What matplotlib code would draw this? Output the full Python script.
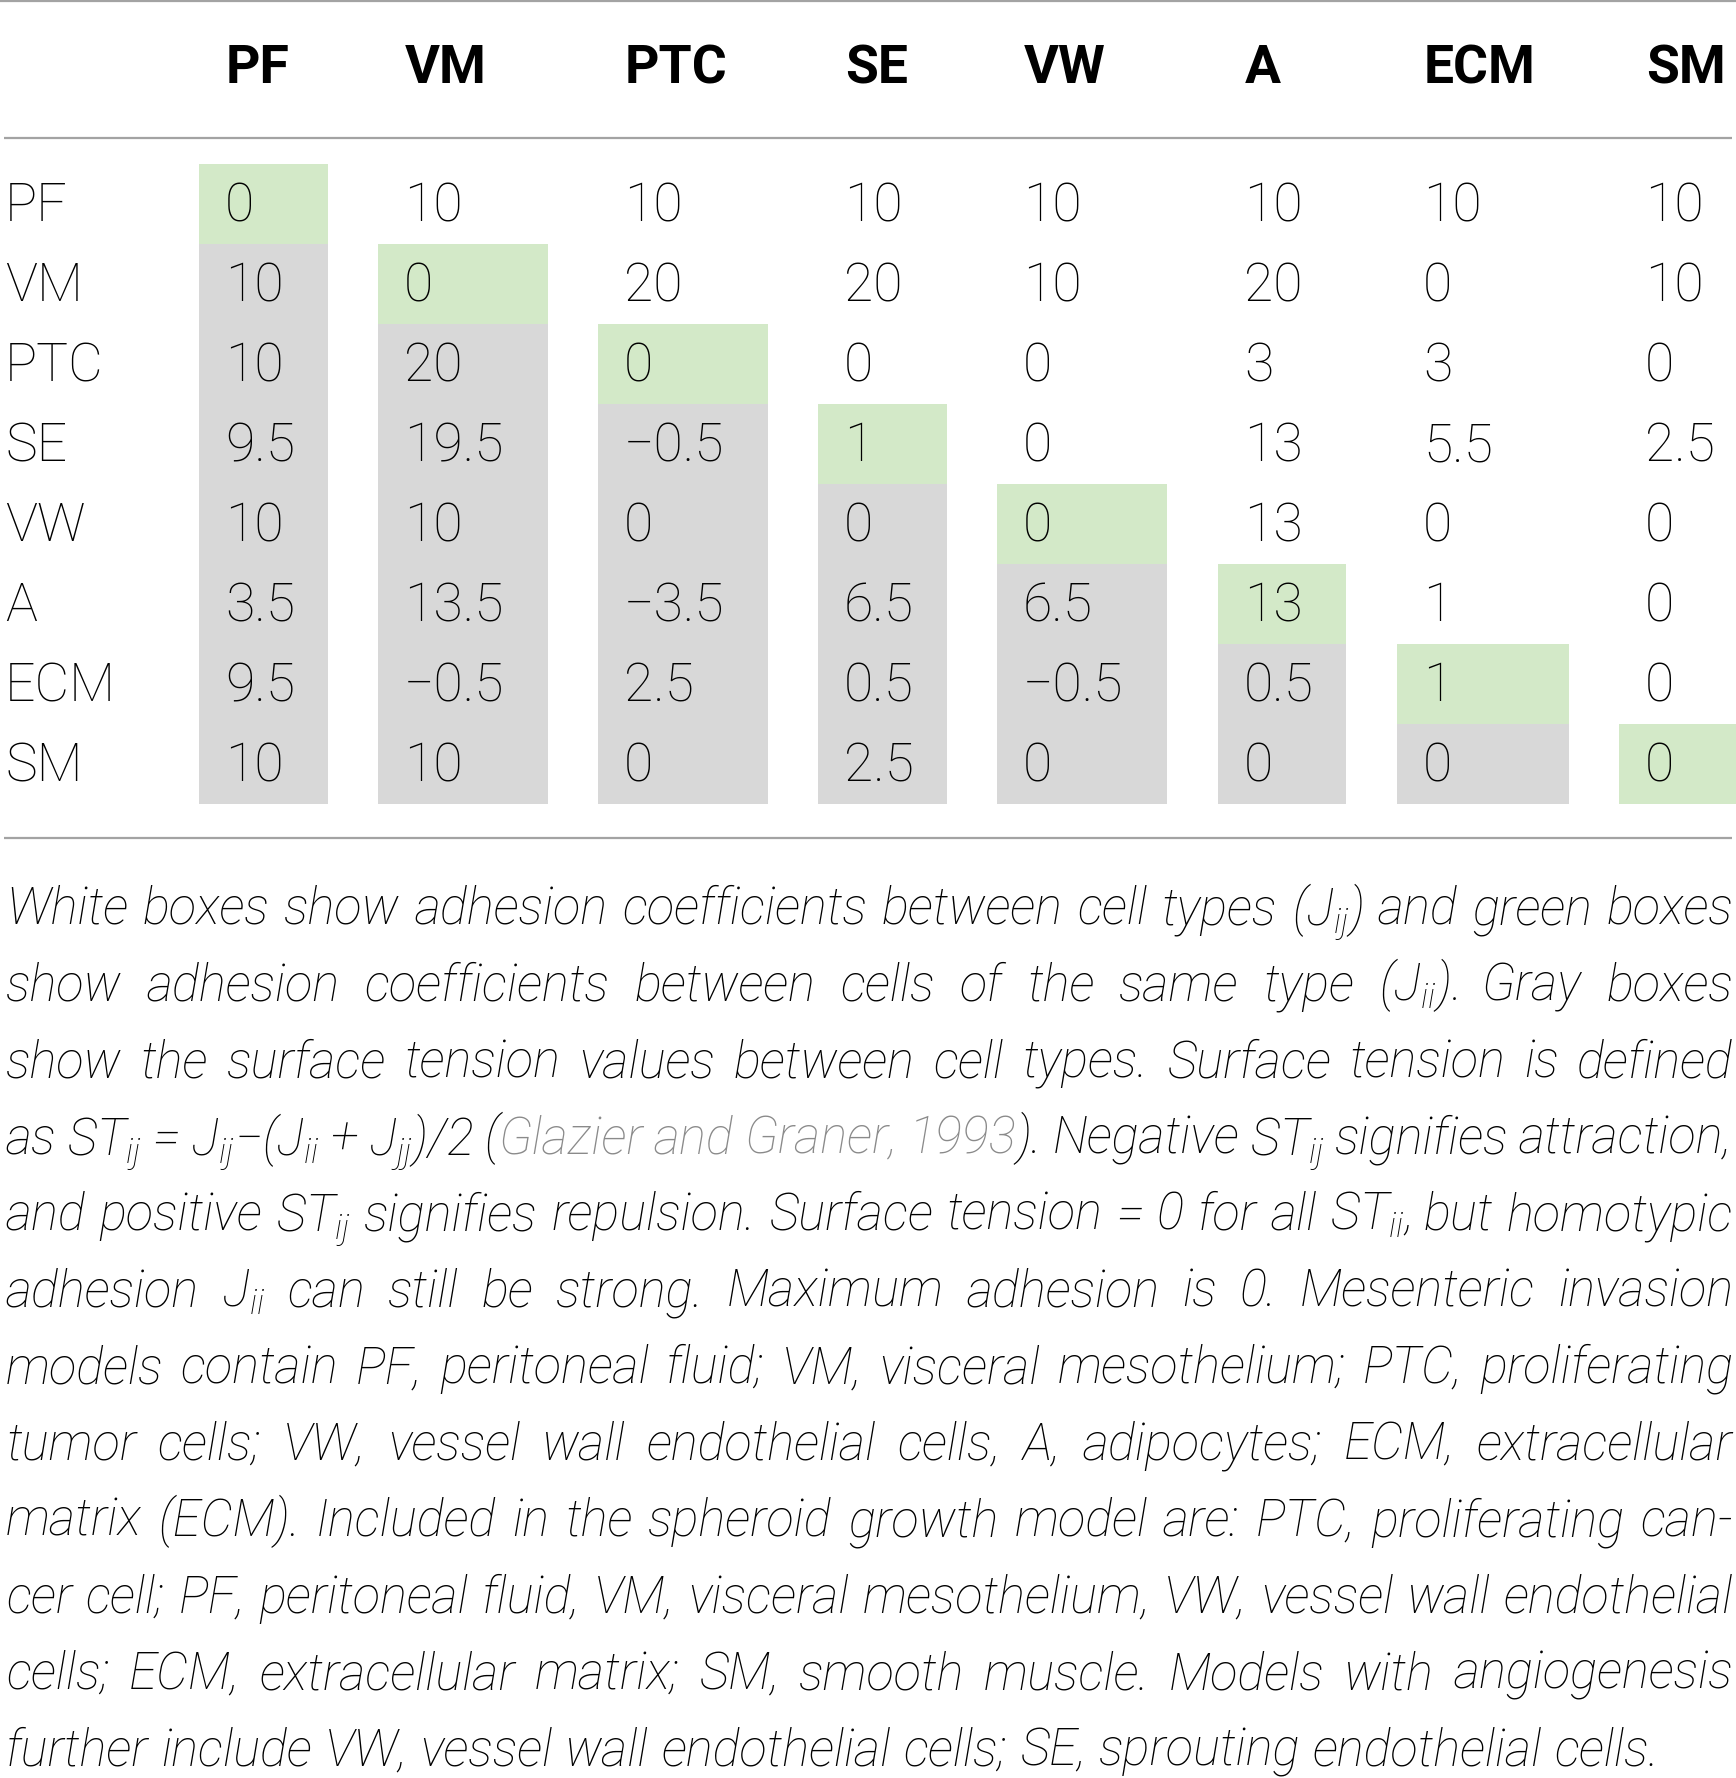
import matplotlib
matplotlib.use("Agg")
import matplotlib.pyplot as plt
from matplotlib.patches import Rectangle

# cell types (row and column labels)
cell_types = ["PF", "VM", "PTC", "SE", "VW", "A", "ECM", "SM"]

# table values, row by row (diagonal = J_ii, upper = J_ij, lower = ST_ij)
row_pf = ["0", "10", "10", "10", "10", "10", "10", "10"]
row_vm = ["10", "0", "20", "20", "10", "20", "0", "10"]
row_ptc = ["10", "20", "0", "0", "0", "3", "3", "0"]
row_se = ["9.5", "19.5", "\u22120.5", "1", "0", "13", "5.5", "2.5"]
row_vw = ["10", "10", "0", "0", "0", "13", "0", "0"]
row_a = ["3.5", "13.5", "\u22123.5", "6.5", "6.5", "13", "1", "0"]
row_ecm = ["9.5", "\u22120.5", "2.5", "0.5", "\u22120.5", "0.5", "1", "0"]
row_sm = ["10", "10", "0", "2.5", "0", "0", "0", "0"]
table_rows = [row_pf, row_vm, row_ptc, row_se, row_vw, row_a, row_ecm, row_sm]

# caption, one string per printed line; text between § marks is the grey citation
caption_lines = [
    "White boxes show adhesion coefficients between cell types ($J_{ij}$) and green boxes",
    "show adhesion coefficients between cells of the same type ($J_{ii}$). Gray boxes",
    "show the surface tension values between cell types. Surface tension is defined",
    "as $ST_{ij}$ = $J_{ij}$\u2212($J_{ii}$ + $J_{jj}$)/2 (§Glazier and Graner, 1993§). Negative $ST_{ij}$ signifies attraction,",
    "and positive $ST_{ij}$ signifies repulsion. Surface tension = 0 for all $ST_{ii}$, but homotypic",
    "adhesion $J_{ii}$ can still be strong. Maximum adhesion is 0. Mesenteric invasion",
    "models contain PF, peritoneal fluid; VM, visceral mesothelium; PTC, proliferating",
    "tumor cells; VW, vessel wall endothelial cells, A, adipocytes; ECM, extracellular",
    "matrix (ECM). Included in the spheroid growth model are: PTC, proliferating can-",
    "cer cell; PF, peritoneal fluid, VM, visceral mesothelium, VW, vessel wall endothelial",
    "cells; ECM, extracellular matrix; SM, smooth muscle. Models with angiogenesis",
    "further include VW, vessel wall endothelial cells; SE, sprouting endothelial cells.",
]

# layout (pixels)
W, H = 1736, 1778
col_left = [199, 378, 598, 818, 997, 1218, 1397, 1619]
col_width = [129, 170, 170, 129, 170, 128, 172, 117]
row_top0, row_h = 164, 80
green = "#d3e9c8"
grey = "#d8d8d8"
rule = "#a3a3a3"

font = "Roboto"
plt.rcParams["font.family"] = [font, "DejaVu Sans"]
plt.rcParams["mathtext.fontset"] = "custom"
plt.rcParams["mathtext.it"] = font + ":italic:light"
plt.rcParams["mathtext.rm"] = font + ":light"
plt.rcParams["mathtext.default"] = "it"

fig = plt.figure(figsize=(W / 100, H / 100), dpi=100)
ax = fig.add_axes([0, 0, 1, 1])
ax.set_xlim(0, W)
ax.set_ylim(H, 0)
ax.axis("off")

# rules
ax.plot([0, W], [1, 1], color=rule, lw=1.6, solid_capstyle="butt")
ax.plot([4, 1732], [138, 138], color=rule, lw=1.6, solid_capstyle="butt")
ax.plot([4, 1732], [838, 838], color=rule, lw=1.6, solid_capstyle="butt")

# header
for j, name in enumerate(cell_types):
    ax.text(col_left[j] + 27, 83, name, fontsize=38.5, fontweight="bold",
            ha="left", va="baseline")

# body
for i, name in enumerate(cell_types):
    top = row_top0 + i * row_h
    ax.text(5, top + 57, name, fontsize=38.5, fontweight="light",
            ha="left", va="baseline")
    for j, val in enumerate(table_rows[i]):
        if i == j:
            fc = green
        elif i > j:
            fc = grey
        else:
            fc = None
        if fc:
            ax.add_patch(Rectangle((col_left[j], top), col_width[j], row_h,
                                   facecolor=fc, edgecolor="none"))
        ax.text(col_left[j] + 26, top + 57, val, fontsize=38.5,
                fontweight="light", ha="left", va="baseline")

# caption, justified word by word
renderer = fig.canvas.get_renderer()
cap_size = 36.5
x0, x1 = 6, 1733
base0, lead = 924, 76.5
cite_color = "#8a8a8a"


def split_words(line, in_cite):
    words = []
    for w in line.split(" "):
        segs = []
        parts = w.split("§")
        for p_i, part in enumerate(parts):
            if p_i > 0:
                in_cite = not in_cite
            if part:
                segs.append((part, cite_color if in_cite else "black"))
        words.append(segs)
    return words, in_cite


in_cite = False
for k, line in enumerate(caption_lines):
    words, in_cite = split_words(line, in_cite)
    y = base0 + k * lead
    size = cap_size
    for attempt in range(3):
        drawn = []
        for segs in words:
            objs = []
            for txt, c in segs:
                t = ax.text(0, y, txt, fontsize=size, style="italic",
                            fontweight="light", color=c, ha="left",
                            va="baseline")
                objs.append(t)
            drawn.append(objs)
        widths = [[t.get_window_extent(renderer).width for t in objs]
                  for objs in drawn]
        total = sum(sum(ws) for ws in widths)
        n = len(drawn)
        min_gap = size * 100 / 72 * 0.16
        if total + min_gap * (n - 1) <= x1 - x0:
            break
        for objs in drawn:
            for t in objs:
                t.remove()
        size *= (x1 - x0) / (total + min_gap * (n - 1)) * 0.998
    if k == len(caption_lines) - 1:
        gap = min(size * 100 / 72 * 0.25, (1724 - x0 - total) / (n - 1))
    else:
        gap = (x1 - x0 - total) / (n - 1)
    x = x0
    for objs, ws in zip(drawn, widths):
        for t, w in zip(objs, ws):
            t.set_x(x)
            x += w
        x += gap

fig.savefig("out.png", dpi=100)
